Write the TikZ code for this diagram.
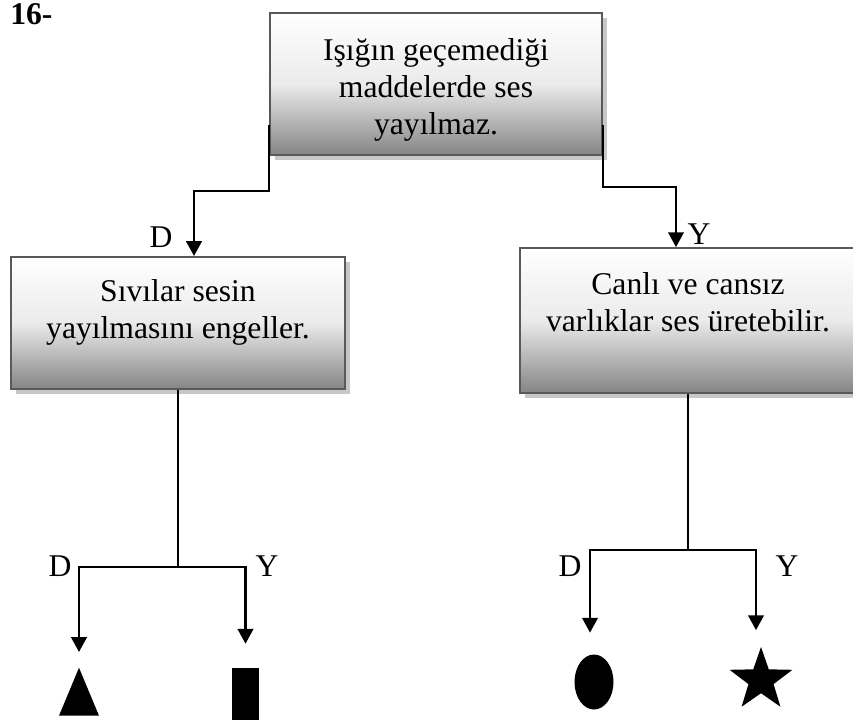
\documentclass[tikz,border=0pt]{standalone}
\usepackage{fontspec}
\setmainfont{Liberation Serif}
\usetikzlibrary{arrows.meta,positioning,shapes.geometric,shadows}
\newcommand{\qfont}{\fontsize{22.5}{26.5}\selectfont}
\tikzset{
  qbox/.style={
    rectangle, draw=black!65, line width=1.4pt,
    top color=white, bottom color=black!48, middle color=black!8,
    drop shadow={shadow xshift=3.5pt, shadow yshift=-3.5pt, fill=black!22, opacity=1}
  },
  qtext/.style={inner sep=0pt, align=center, font=\qfont},
  flow/.style={-{Triangle[width=11pt,length=10.5pt]}, line width=1.7pt},
  link/.style={line width=1.5pt},
  tag/.style={font=\qfont, inner sep=0pt},
  sym/.style={fill=black, draw=none, inner sep=0pt}
}

\begin{document}
\begin{tikzpicture}[x=0.025cm, y=-0.025cm]
  \useasboundingbox (0,0) rectangle (853,724);
  \node[font=\qfont\bfseries, anchor=base west, inner sep=0pt] (qno) at (10,24) {16-};

  % statement boxes
  \node[qbox, minimum width=8.3cm, minimum height=3.55cm] (root) at (436,84) {};
  \node[qbox, minimum width=8.33cm, minimum height=3.3cm] (liq) at (178,323) {};
  \node[qbox, minimum width=8.4cm, minimum height=3.62cm] (src) at (688,320.5) {};

  \node[qtext, below=0.65cm of root.north] (rootT) {Işığın geçemediği\\maddelerde ses\\yayılmaz.};
  \node[qtext, below=0.575cm of liq.north] (liqT) {Sıvılar sesin\\yayılmasını engeller.};
  \node[qtext, below=0.625cm of src.north] (srcT) {Canlı ve cansız\\varlıklar ses üretebilir.};

  % answers of the first statement
  \draw[flow] ([yshift=-1.03cm]root.west) -- ++(0,66) -| ([xshift=0.4cm]liq.north);
  \draw[flow] ([yshift=-1.03cm]root.east) -- ++(0,62) -| ([xshift=-0.3cm]src.north);
  \node[tag] (d0) at (161,237) {D};
  \node[tag] (y0) at (699,234) {Y};

  % end symbols
  \node[sym, isosceles triangle, isosceles triangle stretches, shape border rotate=90,
        minimum width=1cm, minimum height=1.2cm, anchor=south] (tri) at (79,716) {};
  \node[sym, rectangle, minimum width=0.675cm, minimum height=1.3cm] (bar) at (245.5,694) {};
  \node[sym, ellipse, minimum width=0.975cm, minimum height=1.375cm] (egg) at (594,682) {};
  \node[sym, star, star points=5, star point ratio=2.5, minimum size=1.65cm] (stella) at (761,680) {};

  % left branch
  \path (liq.south) ++(0,177) coordinate (jl);
  \draw[link] (liq.south) -- (jl);
  \draw[flow, shorten >=0.375cm] (jl) -| (tri.north);
  \draw[flow, shorten >=0.6cm] (jl) -| (bar.north);
  \node[tag] (d1) at (60,566) {D};
  \node[tag] (y1) at (267,566) {Y};

  % right branch
  \path (src.south) ++(0,156) coordinate (jr);
  \draw[link] (src.south) -- (jr);
  \draw[flow, shorten >=0.54cm] (jr) -| ([xshift=-0.1cm]egg.north);
  \draw[flow, shorten >=0.4cm] (jr) -| ([xshift=-0.125cm]stella.north);
  \node[tag] (d2) at (570,566) {D};
  \node[tag] (y2) at (787,566) {Y};
\end{tikzpicture}
\end{document}
